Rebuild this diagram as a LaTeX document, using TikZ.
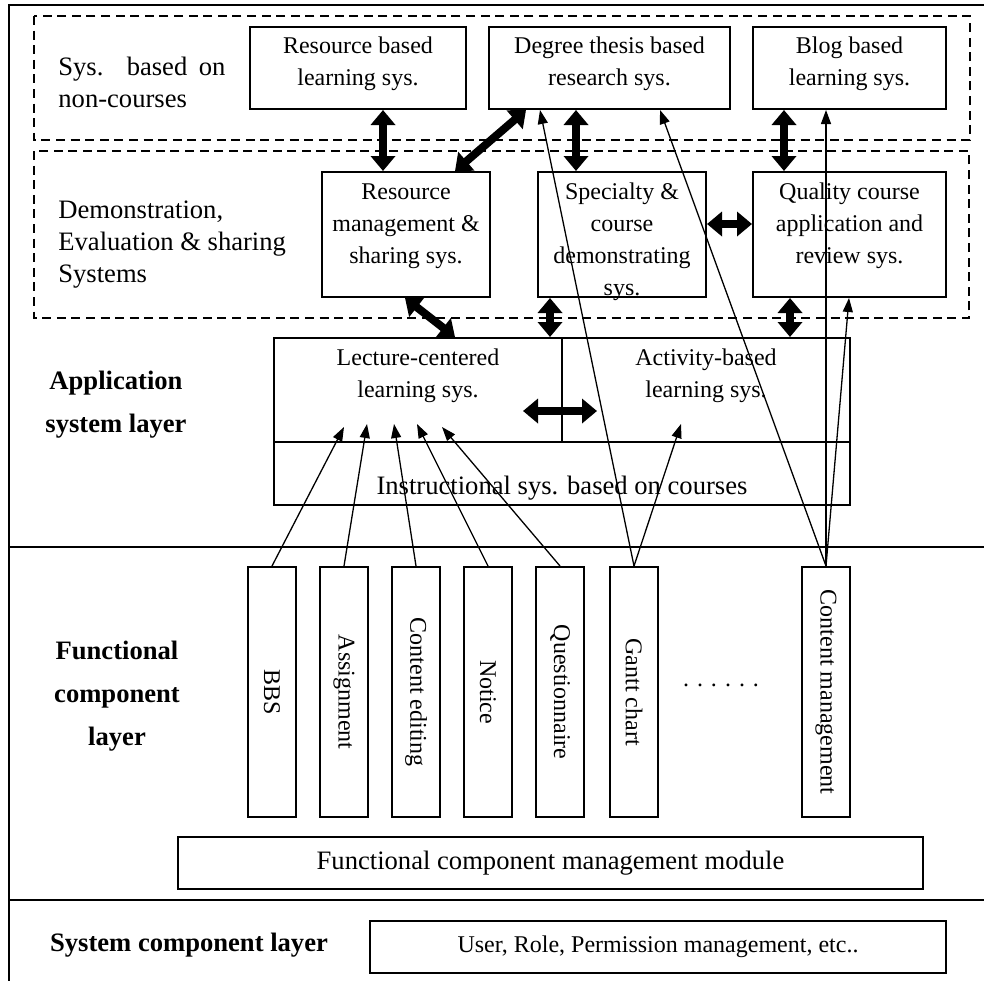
\documentclass[tikz,border=0pt]{standalone}
\usepackage{fontspec}
\setmainfont{Liberation Serif}
\usetikzlibrary{arrows.meta,calc}

% One unit is one half point; y grows downwards.
\tikzset{
  box/.style={draw, line width=1pt, inner sep=0pt},
  txt/.style={inner sep=0pt, align=center, font=\fontsize{12pt}{16pt}\selectfont},
  bigtxt/.style={inner sep=0pt, font=\fontsize{13.3pt}{16pt}\selectfont},
  layertxt/.style={inner sep=0pt, align=center, font=\fontsize{13.3pt}{21.4pt}\selectfont\bfseries},
  zone/.style={draw, dash pattern=on 4.5pt off 2.8pt, line width=0.8pt},
  rule/.style={line width=1pt},
  duplex/.style={line width=4pt, arrows={Triangle[length=7.5pt,width=12pt]-Triangle[length=7.5pt,width=12pt]}},
  feed/.style={line width=0.65pt, arrows={-Triangle[length=7pt,width=5pt]}},
  comp/.style={box, minimum width=24pt, minimum height=125pt},
  comptxt/.style={rotate=-90, inner sep=0pt, font=\fontsize{12pt}{16pt}\selectfont},
}

\begin{document}
\begin{tikzpicture}[x=0.5pt,y=-0.5pt]
\useasboundingbox (0,0) rectangle (984,980);
\clip (0,0) rectangle (984,980);

% outer frame and layer separators
\draw[rule] (9,995) -- (9,5) -- (995,5);
\draw[rule] (9,547) -- (995,547);
\draw[rule] (9,900) -- (995,900);

% dashed zones
\draw[zone] (34,16) rectangle (970,140);
\draw[zone] (34,151) rectangle (969,318);

% zone captions
\node[bigtxt, text width=83.5pt, align=justify, anchor=west] (nonc) at (58,82) {Sys. based on\linebreak non-courses};
\node[bigtxt, align=left, anchor=west] (demo) at (58,245) {Demonstration,\\Evaluation \& sharing\\Systems};

% layer captions
\node[layertxt] (appl) at (116,405) {Application\\system layer};
\node[layertxt] (func) at (117,696) {Functional\\component\\layer};
\node[layertxt] (sysc) at (189,945) {System component layer};

% systems based on non-courses
\node[box, minimum width=108pt, minimum height=41pt] (rbl) at (358,68) {};
\node[txt] (rbl-t) at (358,63.5) {Resource based\\learning sys.};
\node[box, minimum width=120.5pt, minimum height=41pt] (dtr) at (609.5,68) {};
\node[txt] (dtr-t) at (609.5,63.5) {Degree thesis based\\research sys.};
\node[box, minimum width=96.5pt, minimum height=41pt] (bbl) at (849.5,68) {};
\node[txt] (bbl-t) at (849.5,63.5) {Blog based\\learning sys.};

% demonstration, evaluation and sharing systems
\node[box, minimum width=84pt, minimum height=62.5pt] (rms) at (406,234.5) {};
\node[txt] (rms-t) at (406,226) {Resource\\management \&\\sharing sys.};
\node[box, minimum width=84pt, minimum height=62.5pt] (scd) at (622,234.5) {};
\node[txt] (scd-t) at (622,242) {Specialty \&\\course\\demonstrating\\sys.};
\node[box, minimum width=96.5pt, minimum height=62.5pt] (qca) at (849.5,234.5) {};
\node[txt] (qca-t) at (849.5,226) {Quality course\\application and\\review sys.};

% instructional systems based on courses
\node[box, minimum width=144pt, minimum height=52pt] (lec) at (418,390) {};
\node[txt] (lec-t) at (418,375.5) {Lecture-centered\\learning sys.};
\node[box, minimum width=144pt, minimum height=52pt] (act) at (706,390) {};
\node[txt] (act-t) at (706,375.5) {Activity-based\\learning sys.};
\node[box, minimum width=288pt, minimum height=31.5pt] (ins) at (562,473.5) {};
\node[txt, font=\fontsize{13.3pt}{16pt}\selectfont] (ins-t) at (562,488) {Instructional sys. based on courses};

% functional components
\foreach \nm/\cx/\lbl in {bbs/272/BBS, asg/344/Assignment, ced/416/Content editing,
                          ntc/488/Notice, qst/560/Questionnaire, gnt/634/Gantt chart,
                          cmg/826/Content management}{
  \node[comp] (\nm) at (\cx,692) {};
  \node[comptxt] (\nm-t) at (\cx,692) {\lbl};
}
\node[txt, anchor=base] (more) at (721,686) {. . . . . .};

\node[box, minimum width=372.5pt, minimum height=26pt, font=\fontsize{13.3pt}{16pt}\selectfont] (fcm) at (550.5,863) {Functional component management module};
\node[box, minimum width=288pt, minimum height=26pt, font=\fontsize{12pt}{16pt}\selectfont] (urp) at (658,947) {User, Role, Permission management, etc..};

% two-way links between systems
\draw[duplex] (rbl.south -| 383,0) -- (rms.north -| 383,0);
\draw[duplex] (dtr.south -| 526,0) -- (rms.north -| 455,0);
\draw[duplex] (dtr.south -| 576,0) -- (scd.north -| 576,0);
\draw[duplex] (bbl.south -| 784,0) -- (qca.north -| 784,0);
\draw[duplex] (scd.east |- 0,224) -- (qca.west |- 0,224);
\draw[duplex] (rms.south -| 405,0) -- (lec.north -| 455,0);
\draw[duplex] (scd.south -| 550,0) -- (lec.north -| 550,0);
\draw[duplex] (qca.south -| 790,0) -- (act.north -| 790,0);
\coordinate (hub) at (lec.east |- 0,411);
\draw[duplex] ([xshift=-20pt]hub) -- ([xshift=17pt]hub);

% components feeding the systems
\path (lec.south west) ++(71,-16) coordinate (in1);
\path (lec.south west) ++(94,-19) coordinate (in2);
\path (lec.south west) ++(121,-19) coordinate (in3);
\path (lec.south west) ++(144,-19) coordinate (in4);
\path (lec.south west) ++(169,-16) coordinate (in5);
\path (act.south west) ++(120,-19) coordinate (in6);
\draw[feed] (bbs.north) -- (in1);
\draw[feed] (asg.north) -- (in2);
\draw[feed] (ced.north) -- (in3);
\draw[feed] (ntc.north) -- (in4);
\draw[feed] (qst.north) -- (in5);
\draw[feed] (gnt.north) -- (in6);
\draw[feed] (gnt.north) -- (dtr.south -| 540,0);
\draw[feed] (cmg.north) -- (dtr.south -| 660,0);
\draw[feed] (cmg.north) -- (bbl.south -| 826,0);
\draw[feed] (cmg.north) -- (qca.south -| 849,0);
\end{tikzpicture}
\end{document}
